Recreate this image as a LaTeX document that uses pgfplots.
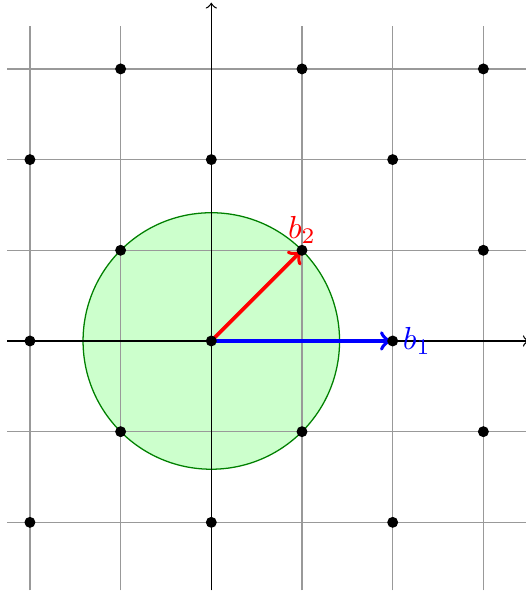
\documentclass[border=0pt]{standalone}
\usepackage{pgfplots}
\pgfplotsset{compat=1.18}
\begin{document}
\begin{tikzpicture}
\begin{axis}[
  hide axis,
  x=1cm, y=1cm,
  xmin=-2.33, xmax=3.47,
  ymin=-2.79, ymax=3.76,
  clip=false,
]
% circle
\draw[green!50!black, fill=green!20] (axis cs:0,0) circle [radius=1.4142cm];
% grid
\foreach \v in {-2,...,3} {
  \edef\tmp{\noexpand\draw[gray!80, line width=0.4pt] (axis cs:\v,-2.75) -- (axis cs:\v,3.47);}\tmp
  \edef\tmp{\noexpand\draw[gray!80, line width=0.4pt] (axis cs:-2.25,\v) -- (axis cs:3.5,\v);}\tmp
}
% axes
\draw[->, black] (axis cs:-2.25,0) -- (axis cs:3.5,0);
\draw[->, black] (axis cs:0,-2.75) -- (axis cs:0,3.73);
% basis vectors
\draw[->, blue, very thick, shorten >=0.6pt] (axis cs:0,0) -- (axis cs:2,0);
\draw[->, red, very thick, shorten >=0.6pt] (axis cs:0,0) -- (axis cs:1,1);
% lattice points
\addplot[only marks, mark=*, mark size=1.5pt, black] coordinates {
  (-1,3) (1,3) (3,3)
  (-2,2) (0,2) (2,2)
  (-1,1) (1,1) (3,1)
  (-2,0) (0,0) (2,0)
  (-1,-1) (1,-1) (3,-1)
  (-2,-2) (0,-2) (2,-2)
};
\node[blue, anchor=west, inner sep=3pt] at (axis cs:2,0) {$b_1$};
\node[red, anchor=south, inner sep=2pt] at (axis cs:1,1) {$b_2$};
\coordinate (bl) at (axis cs:-2.33,-2.79);
\coordinate (tr) at (axis cs:3.47,3.76);
\end{axis}
\pgfresetboundingbox
\useasboundingbox (bl) rectangle (tr);
\end{tikzpicture}
\end{document}
